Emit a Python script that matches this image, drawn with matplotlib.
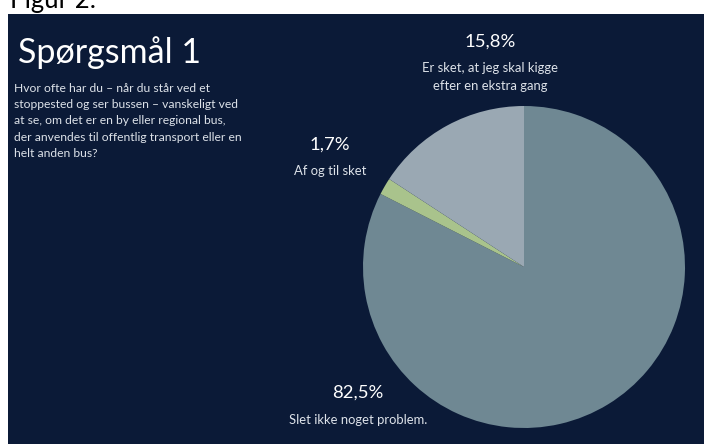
import matplotlib
matplotlib.use("Agg")
import matplotlib.pyplot as plt

W, H = 704, 444

# survey answers, drawn clockwise from 12 o'clock
answers = ["Slet ikke noget problem.", "Af og til sket",
           "Er sket, at jeg skal kigge\nefter en ekstra gang"]
shares = [82.5, 1.7, 15.8]
share_labels = ["82,5%", "1,7%", "15,8%"]

NAVY = "#0b1a37"
SLICE = ["#6f8893", "#a9c38c", "#9aa8b3"]
TXT = "#dde2e9"
FONT = ["Lato", "DejaVu Sans"]


def px(x, y):
    # pixel position (from top-left) -> figure fraction
    return x / W, 1 - y / H


fig = plt.figure(figsize=(W / 100, H / 100), dpi=100, facecolor="white")

# slide background
bg = fig.add_axes([8 / W, 0, (W - 8) / W, (H - 14) / H], zorder=-1)
bg.set_facecolor(NAVY)
bg.set_xticks([])
bg.set_yticks([])
for s in bg.spines.values():
    s.set_visible(False)

fig.text(*px(10, 8), "Figur 2:", fontsize=18.5, color="black", family=FONT,
         ha="left", va="baseline")

fig.text(*px(18, 63), "Spørgsmål 1", fontsize=24.5, color="white", family=FONT,
         ha="left", va="baseline")
question = ("Hvor ofte har du – når du står ved et\n"
            "stoppested og ser bussen – vanskeligt ved\n"
            "at se, om det er en by eller regional bus,\n"
            "der anvendes til offentlig transport eller en\n"
            "helt anden bus?")
fig.text(*px(14, 82.5), question, fontsize=8.7, color=TXT, family=FONT,
         ha="left", va="top", linespacing=1.6)

# pie
cx, cy, r = 524, 267, 161
ax = fig.add_axes([(cx - r) / W, (H - cy - r) / H, 2 * r / W, 2 * r / H], zorder=1)
ax.pie(shares, colors=SLICE, startangle=90, counterclock=False, radius=1,
       wedgeprops=dict(linewidth=0))
ax.set_xlim(-1, 1)
ax.set_ylim(-1, 1)
ax.set_aspect("equal")
ax.axis("off")

# slice labels: (x, y of value, y of caption)
label_pos = [(358, 393, 420), (330, 145, 171), (490, 42, 77)]
for (x, yv, yc), val, name in zip(label_pos, share_labels, answers):
    fig.text(*px(x, yv), val, fontsize=13.3, color="white", family=FONT,
             ha="center", va="center", zorder=3)
    fig.text(*px(x, yc), name, fontsize=9.4, color=TXT, family=FONT,
             ha="center", va="center", linespacing=1.6, zorder=3)

fig.savefig("out.png", dpi=100, facecolor="white")
